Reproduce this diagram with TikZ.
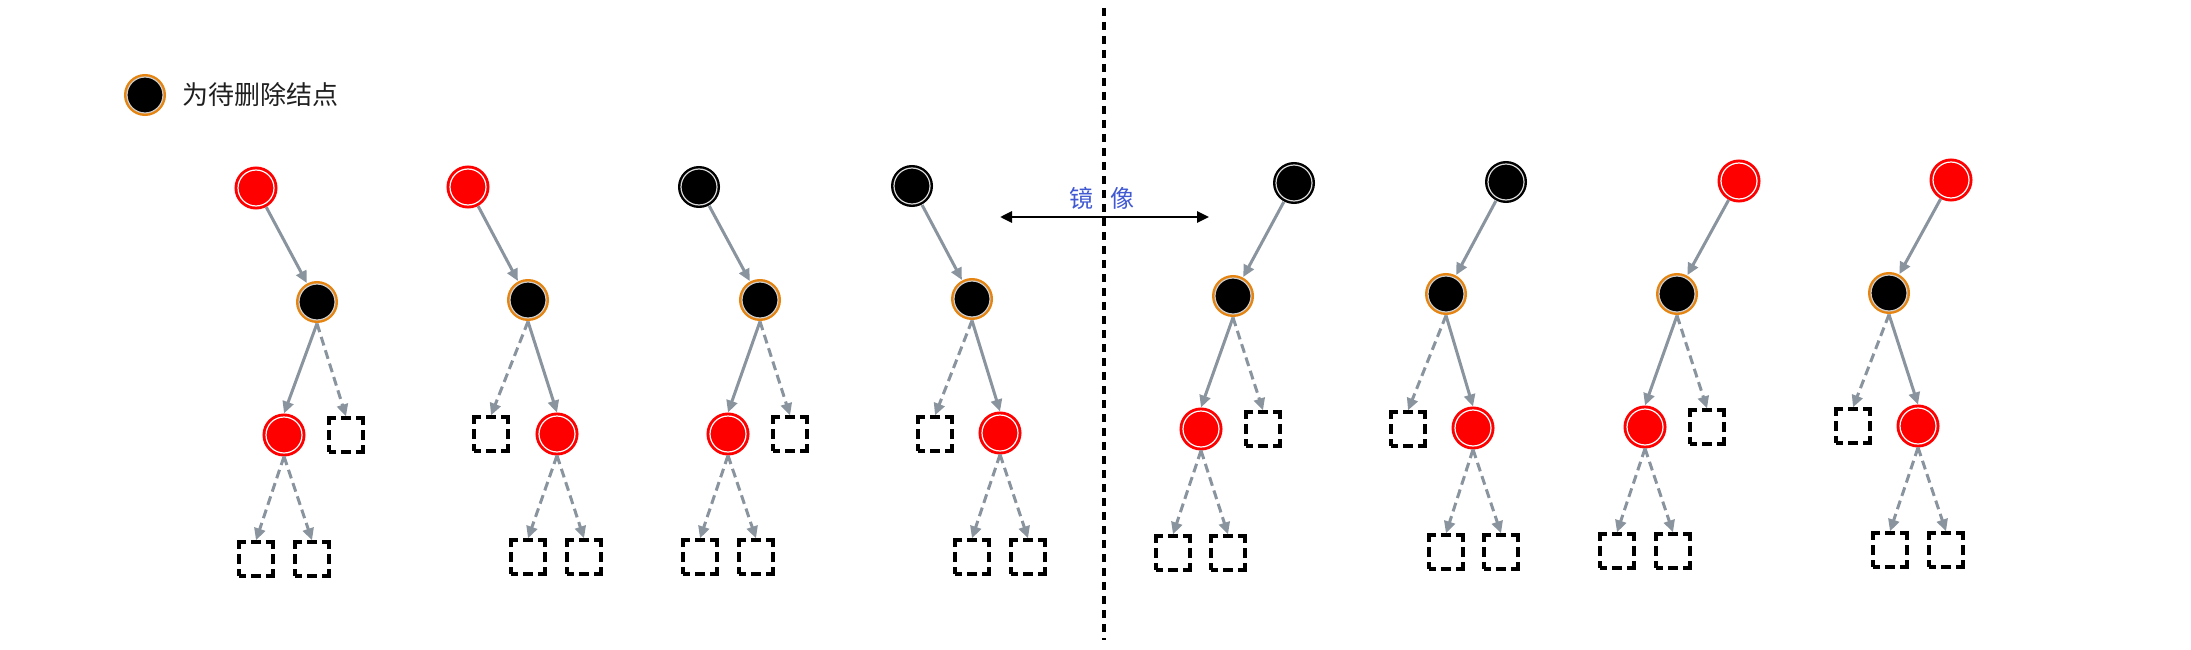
\documentclass[tikz,border=0pt]{standalone}
\usepackage{fontspec}
\newfontfamily\cjk{Noto Sans CJK SC}
\usetikzlibrary{arrows.meta}
\usetikzlibrary{positioning}
\definecolor{rbred}{RGB}{255,0,0}
\definecolor{delorange}{RGB}{230,132,18}
\definecolor{edgegray}{RGB}{138,148,158}
\definecolor{mirrorblue}{RGB}{64,88,210}
\tikzset {
  tree node/.style = {
    circle,
    minimum size = 36pt,
    inner sep = 0,
    outer sep = 3.5pt,
    line width = 1.2pt
  },
  % red node
  red node/.style = {
    tree node,
    preaction = {draw = rbred, line width = 7pt},
    draw = white,
    fill = rbred
  },
  % black node
  black node/.style = {
    tree node,
    preaction = {draw = black, line width = 6pt},
    draw = white!85!black,
    fill = black
  },
  % node to be deleted
  del node/.style = {
    tree node,
    preaction = {draw = delorange, line width = 6pt},
    draw = black!20,
    fill = black
  },
  % empty leaf
  nil node/.style = {
    draw = black,
    rectangle,
    minimum size = 34pt,
    inner sep = 0,
    line width = 3.3pt,
    dash pattern = on 14pt off 5pt on 10pt off 5pt,
    dash phase = 7pt
  }
}
\tikzset {
  link/.style = {
    draw = edgegray,
    line width = 3pt,
    -{Triangle[length = 12pt, width = 11pt]}
  },
  % link to an empty leaf
  nil link/.style = {
    link,
    dash pattern = on 9pt off 5pt
  },
  mirror/.style = {
    draw = black,
    line width = 2.8pt,
    {Triangle[length = 12pt, width = 11pt]}-{Triangle[length = 12pt, width = 11pt]}
  }
}
\begin{document}
\begin{tikzpicture}[x = 1pt, y = -1pt]
    \useasboundingbox (0,0) rectangle (2191,650);

    % legend
    \node[del node] (legend) at (145,95) {};
    \node[inner sep = 0, text = black!88, font = \cjk\fontsize{26}{26}\selectfont]
      (legend-text) [right=16pt of legend] {为待删除结点};

    % mirror line
    \coordinate (mirror-top) at (1104,8);
    \coordinate (mirror-bottom) at (1104,640);
    \draw[line width = 3.5pt, dash pattern = on 8pt off 6pt] (mirror-top) -- (mirror-bottom);
    \coordinate (mirror-left) at (1000,217);
    \coordinate (mirror-right) at (1209,217);
    \draw[mirror] (mirror-left) -- (mirror-right);
    \node[text = mirrorblue, font = \cjk\fontsize{24}{24}\selectfont, inner sep = 0]
      (mirror-text) at (1102,198) {镜\hspace{0.7em}像};

    % tree 1
    \node[red node] (root-1) at (256,188) {};
    \node[del node] (del-1) at (317,302) {};
    \node[red node] (child-1) at (284,435) {};
    \node[nil node] (nil-1) at (346,435) {};
    \node[nil node] (leaf-1a) at (256,559) {};
    \node[nil node] (leaf-1b) at (312,559) {};

    % tree 2
    \node[red node] (root-2) at (468,187) {};
    \node[del node] (del-2) at (528,300) {};
    \node[nil node] (nil-2) at (491,434) {};
    \node[red node] (child-2) at (557,434) {};
    \node[nil node] (leaf-2a) at (528,557) {};
    \node[nil node] (leaf-2b) at (584,557) {};

    % tree 3
    \node[black node] (root-3) at (699,187) {};
    \node[del node] (del-3) at (760,300) {};
    \node[red node] (child-3) at (728,434) {};
    \node[nil node] (nil-3) at (790,434) {};
    \node[nil node] (leaf-3a) at (700,557) {};
    \node[nil node] (leaf-3b) at (756,557) {};

    % tree 4
    \node[black node] (root-4) at (912,186) {};
    \node[del node] (del-4) at (972,299) {};
    \node[nil node] (nil-4) at (935,434) {};
    \node[red node] (child-4) at (1000,433) {};
    \node[nil node] (leaf-4a) at (972,557) {};
    \node[nil node] (leaf-4b) at (1028,557) {};

    % tree 5
    \node[black node] (root-5) at (1294,183) {};
    \node[del node] (del-5) at (1233,296) {};
    \node[red node] (child-5) at (1201,429) {};
    \node[nil node] (nil-5) at (1263,429) {};
    \node[nil node] (leaf-5a) at (1173,553) {};
    \node[nil node] (leaf-5b) at (1228,553) {};

    % tree 6
    \node[black node] (root-6) at (1506,182) {};
    \node[del node] (del-6) at (1446,294) {};
    \node[nil node] (nil-6) at (1408,429) {};
    \node[red node] (child-6) at (1473,428) {};
    \node[nil node] (leaf-6a) at (1446,552) {};
    \node[nil node] (leaf-6b) at (1501,552) {};

    % tree 7
    \node[red node] (root-7) at (1739,181) {};
    \node[del node] (del-7) at (1677,294) {};
    \node[red node] (child-7) at (1645,427) {};
    \node[nil node] (nil-7) at (1707,427) {};
    \node[nil node] (leaf-7a) at (1617,551) {};
    \node[nil node] (leaf-7b) at (1673,551) {};

    % tree 8
    \node[red node] (root-8) at (1951,180) {};
    \node[del node] (del-8) at (1889,293) {};
    \node[nil node] (nil-8) at (1853,426) {};
    \node[red node] (child-8) at (1918,426) {};
    \node[nil node] (leaf-8a) at (1890,550) {};
    \node[nil node] (leaf-8b) at (1946,550) {};

    % links
    \draw[link] (root-1) -- (del-1);
    \draw[link] (del-1.south) -- (child-1.north);
    \draw[nil link] (del-1.south) -- (nil-1.north);
    \draw[nil link] (child-1.south) -- (leaf-1a.north);
    \draw[nil link] (child-1.south) -- (leaf-1b.north);

    \draw[link] (root-2) -- (del-2);
    \draw[link] (del-2.south) -- (child-2.north);
    \draw[nil link] (del-2.south) -- (nil-2.north);
    \draw[nil link] (child-2.south) -- (leaf-2a.north);
    \draw[nil link] (child-2.south) -- (leaf-2b.north);

    \draw[link] (root-3) -- (del-3);
    \draw[link] (del-3.south) -- (child-3.north);
    \draw[nil link] (del-3.south) -- (nil-3.north);
    \draw[nil link] (child-3.south) -- (leaf-3a.north);
    \draw[nil link] (child-3.south) -- (leaf-3b.north);

    \draw[link] (root-4) -- (del-4);
    \draw[link] (del-4.south) -- (child-4.north);
    \draw[nil link] (del-4.south) -- (nil-4.north);
    \draw[nil link] (child-4.south) -- (leaf-4a.north);
    \draw[nil link] (child-4.south) -- (leaf-4b.north);

    \draw[link] (root-5) -- (del-5);
    \draw[link] (del-5.south) -- (child-5.north);
    \draw[nil link] (del-5.south) -- (nil-5.north);
    \draw[nil link] (child-5.south) -- (leaf-5a.north);
    \draw[nil link] (child-5.south) -- (leaf-5b.north);

    \draw[link] (root-6) -- (del-6);
    \draw[link] (del-6.south) -- (child-6.north);
    \draw[nil link] (del-6.south) -- (nil-6.north);
    \draw[nil link] (child-6.south) -- (leaf-6a.north);
    \draw[nil link] (child-6.south) -- (leaf-6b.north);

    \draw[link] (root-7) -- (del-7);
    \draw[link] (del-7.south) -- (child-7.north);
    \draw[nil link] (del-7.south) -- (nil-7.north);
    \draw[nil link] (child-7.south) -- (leaf-7a.north);
    \draw[nil link] (child-7.south) -- (leaf-7b.north);

    \draw[link] (root-8) -- (del-8);
    \draw[link] (del-8.south) -- (child-8.north);
    \draw[nil link] (del-8.south) -- (nil-8.north);
    \draw[nil link] (child-8.south) -- (leaf-8a.north);
    \draw[nil link] (child-8.south) -- (leaf-8b.north);
  \end{tikzpicture}
\end{document}
